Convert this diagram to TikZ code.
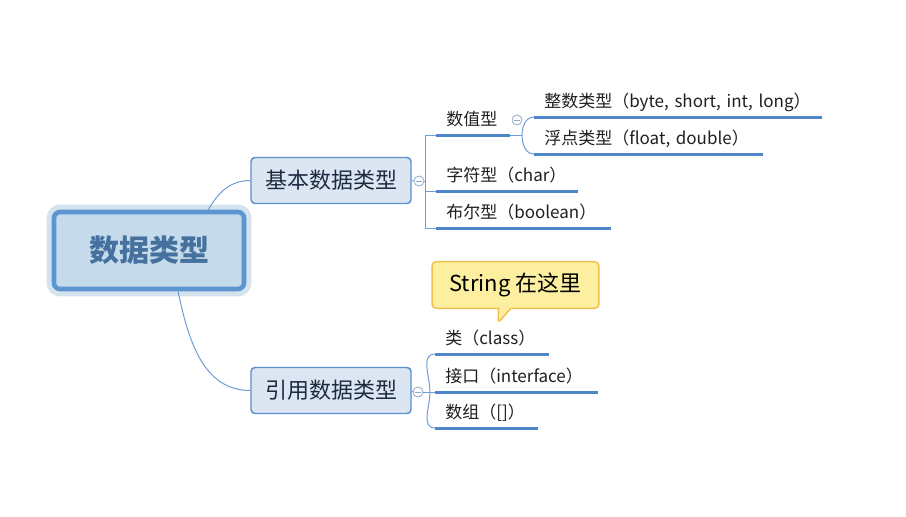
\documentclass[tikz,border=0pt]{standalone}
\usepackage{fontspec}
\newfontfamily\cjk{Noto Sans CJK SC}
\usepackage{xcolor}
\usetikzlibrary{positioning,shapes.callouts}
\definecolor{mmline}{HTML}{4F86C9}
\definecolor{mmlink}{HTML}{6E9DD6}
\definecolor{mmborder}{HTML}{5A8FD0}
\definecolor{mmfill}{HTML}{DCE6F2}
\definecolor{rootfill}{HTML}{C5DBEC}
\definecolor{rootborder}{HTML}{5B96D0}
\definecolor{roothalo}{HTML}{D5E3EE}
\definecolor{roottext}{HTML}{46719E}
\definecolor{nodetext}{HTML}{1C2B40}
\definecolor{notefill}{HTML}{FDEFA0}
\definecolor{noteborder}{HTML}{F0C04C}
\definecolor{knobc}{HTML}{8FA9C9}

\begin{document}
\begin{tikzpicture}[x=0.75pt, y=-0.75pt,
  root/.style={draw=rootborder, line width=3.4pt, fill=rootfill,
               rounded corners=4.5pt, minimum width=142.5pt, minimum height=57.75pt,
               preaction={draw=roothalo, line width=11pt},
               font=\cjk\bfseries\fontsize{22.5}{26}\selectfont, text=roottext},
  topic/.style={draw=mmborder, line width=1.1pt, fill=mmfill, rounded corners=3pt,
                minimum width=120pt, minimum height=34.5pt,
                font=\cjk\fontsize{16.5}{20}\selectfont, text=nodetext},
  leaf/.style={anchor=south west, inner sep=0pt, text depth=6.75pt, align=left,
               font=\cjk\fontsize{12.75}{15}\selectfont, text=black!88},
  knob/.style={circle, draw=knobc, fill=white, line width=0.6pt, inner sep=0pt,
               minimum size=7.5pt,
               path picture={\draw[knobc, line width=0.6pt]
                 ([xshift=1.6pt]path picture bounding box.west) --
                 ([xshift=-1.6pt]path picture bounding box.east);}},
  note/.style={rectangle callout, draw=noteborder, fill=notefill, line width=1.1pt,
               rounded corners=3pt, minimum width=125pt, minimum height=35pt,
               callout pointer width=9pt,
               font=\cjk\fontsize{16.5}{20}\selectfont, text=black},
  uline/.style={mmline, line width=2.25pt},
  link/.style={mmlink, line width=0.75pt},
]
\useasboundingbox (0,0) rectangle (906,517);

% central topic and main branches
\node[root] (dt) at (149,250.5) {数据类型};
\node[topic] (basic) at (331,180.5) {基本数据类型};
\node[topic] (ref) at (331,390.5) {引用数据类型};

% collapse knobs
\node[knob] (kb) at (419,181) {};
\node[knob] (kr) at (418,392) {};
\node[knob] (kn) at (517,120) {};

% leaves
\node[leaf, text width=47.25pt] (num) at (446,135) {数值型};
\node[leaf, text width=207.75pt] (int) at (544,117) {整数类型（byte, short, int, long）};
\node[leaf, text width=163.5pt] (flt) at (544,154) {浮点类型（float, double）};
\node[leaf, text width=98.25pt] (chr) at (446,191) {字符型（char）};
\node[leaf, text width=123pt] (bool) at (446,228) {布尔型（boolean）};
\node[leaf, text width=77.25pt] (cls) at (445,354) {类（class）};
\node[leaf, text width=114pt] (ifc) at (445,392) {接口（interface）};
\node[leaf, text width=69pt] (arr) at (445,428) {数组（[]）};

\foreach \n in {num,int,flt,chr,bool,cls,ifc,arr}
  \draw[uline] ([xshift=-7.5pt]\n.south west) -- (\n.south east);

% callout
\node[note, callout absolute pointer={(498,323)}] (tip) at (515.5,285) {String 在这里};

% links from the central topic
\draw[link] ([xshift=-28.5pt]dt.north east) to[out=60,in=180] (basic.west);
\draw[link] ([xshift=21.75pt]dt.south) to[out=-78,in=180] (ref.west);

% basic branch
\coordinate (jb) at (425.5,181);
\draw[link] (basic.east) -- (kb.west);
\draw[link] (kb.east) -- (jb);
\draw[link] (jb) |- ([xshift=-7.5pt]num.south west);
\draw[link] (jb) |- ([xshift=-7.5pt]chr.south west);
\draw[link] (jb) |- ([xshift=-7.5pt]bool.south west);

% numeric sub-branch
\coordinate (jn) at (522,135);
\draw[link] (num.south east) -- (jn);
\draw[link] ([xshift=-7.5pt]int.south west) to[out=180,in=90] (jn)
  to[out=-90,in=180] ([xshift=-7.5pt]flt.south west);

% reference branch
\coordinate (jr) at (430,392);
\draw[link] (ref.east) -- (kr.west);
\draw[link] (kr.east) -- ([xshift=-7.5pt]ifc.south west);
\draw[link] ([xshift=-7.5pt]cls.south west) to[out=180,in=90] (jr)
  to[out=-90,in=180] ([xshift=-7.5pt]arr.south west);
\end{tikzpicture}
\end{document}
